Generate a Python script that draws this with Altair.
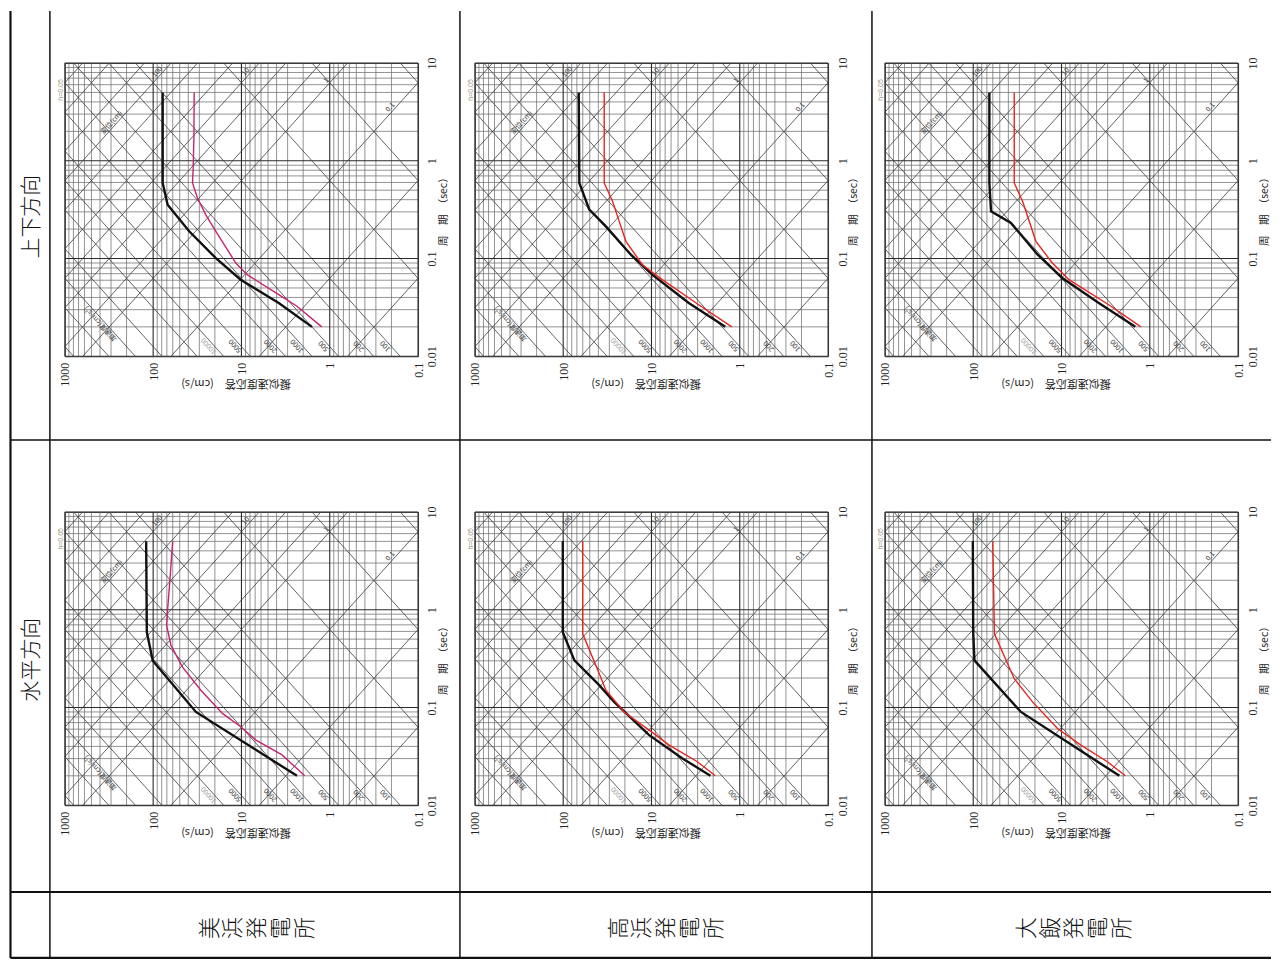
import math
import altair as alt
import pandas as pd

# ---------------- values ----------------
STATIONS = ["美浜発電所", "高浜発電所", "大飯発電所"]
DIRECTIONS = ["上下方向", "水平方向"]
DAMPING_TEXT = "h=0.05"
VEL_TITLE = "擬似速度応答　(cm/s)"
PER_TITLE = "周　期　（sec）"

PERIOD_MAJOR = [0.01, 0.1, 1, 10]
VELOCITY_MAJOR = [0.1, 1, 10, 100, 1000]
MINOR_STEPS = [2, 3, 4, 5, 6, 7, 8, 9]

DISP_LINES = [0.0001, 0.001, 0.01, 0.1, 1, 2, 5, 10, 20, 50, 100, 200, 500, 1000]
ACC_LINES = [0.1, 1, 10, 100, 200, 500, 1000, 2000, 5000, 10000, 20000, 50000,
             100000, 200000, 500000]

DISP_LABEL_TEXT = ["100", "10", "1", "0.1", "変位(cm)"]
DISP_LABEL_ON = [100, 10, 1, 0.1, 100]
DISP_LABEL_PERIOD = [7.6, 7.6, 6.2, 3.3, 2.3]

ACC_LABEL_TEXT = ["10000", "5000", "2000", "1000", "500", "200", "100", "加速度(cm/s²)"]
ACC_LABEL_ON = [10000, 5000, 2000, 1000, 500, 200, 100, 100000]
ACC_LABEL_PERIOD = [0.0136, 0.0136, 0.0136, 0.0136, 0.0136, 0.0136, 0.0136, 0.023]
ACC_LABEL_SHADE = ["faint", "dark", "dark", "dark", "dark", "dark", "dark", "dark"]

# Mihama
MIHAMA_V_SS_T = [0.02, 0.0351, 0.0608, 0.101, 0.190, 0.355, 0.593, 5.0]
MIHAMA_V_SS_SV = [1.59, 3.78, 10.2, 19.5, 39.1, 68.6, 78.0, 78.0]
MIHAMA_V_RES_T = [0.02, 0.0325, 0.0427, 0.0684, 0.090, 0.190, 0.281, 0.416, 0.593, 0.844, 1.85, 5.0]
MIHAMA_V_RES_SV = [1.23, 2.35, 3.78, 8.6, 11.6, 19.5, 25.4, 31.5, 35.8, 35.2, 34.5, 34.3]
MIHAMA_H_SS_T = [0.02, 0.090, 0.30, 0.59, 5.0]
MIHAMA_H_SS_SV = [2.35, 32.8, 101, 118, 120]
MIHAMA_H_RES_T = [0.02, 0.0327, 0.0466, 0.0635, 0.0869, 0.150, 0.259, 0.431, 0.687, 1.02, 2.05, 5.0]
MIHAMA_H_RES_SV = [1.92, 3.47, 6.92, 10.2, 16.4, 28.8, 46.5, 62.8, 70.3, 68.5, 64.5, 60.1]
# Takahama
TAKAHAMA_V_SS_T = [0.02, 0.0351, 0.0684, 0.110, 0.213, 0.316, 0.593, 5.0]
TAKAHAMA_V_SS_SV = [1.46, 3.78, 9.8, 17.2, 32.8, 50.6, 65.6, 66.7]
TAKAHAMA_V_RES_T = [0.02, 0.0337, 0.0608, 0.0865, 0.150, 0.240, 0.385, 0.593, 5.0]
TAKAHAMA_V_RES_SV = [1.23, 2.92, 7.55, 12.7, 19.5, 23.2, 27.6, 34.3, 34.3]
TAKAHAMA_H_SS_T = [0.02, 0.0303, 0.0524, 0.114, 0.169, 0.303, 0.587, 5.0]
TAKAHAMA_H_SS_SV = [2.15, 4.5, 10.7, 26.5, 39.1, 74.6, 101, 101]
TAKAHAMA_H_RES_T = [0.02, 0.028, 0.0414, 0.0524, 0.090, 0.150, 0.222, 0.567, 5.0]
TAKAHAMA_H_RES_SV = [1.89, 3.05, 6.36, 8.97, 20.4, 32.8, 39.1, 60.1, 60.1]
# Ohi
OHI_V_SS_T = [0.02, 0.0351, 0.0633, 0.110, 0.231, 0.304, 0.593, 5.0]
OHI_V_SS_SV = [1.46, 3.78, 9.8, 18.7, 37.4, 62.8, 65.6, 65.6]
OHI_V_RES_T = [0.02, 0.0337, 0.0608, 0.090, 0.150, 0.385, 0.593, 5.0]
OHI_V_RES_SV = [1.26, 2.92, 8.24, 12.7, 19.5, 27.6, 34.3, 34.3]
OHI_H_SS_T = [0.02, 0.090, 0.303, 0.587, 5.0]
OHI_H_SS_SV = [2.21, 28.8, 96.8, 100, 101]
OHI_H_RES_T = [0.02, 0.028, 0.0414, 0.061, 0.114, 0.197, 0.567, 5.0]
OHI_H_RES_SV = [1.89, 3.05, 6.08, 11.1, 21.3, 34.3, 57.5, 60.1]

MIHAMA_COLOR = "#c8236e"
OTHER_COLOR = "#e8251e"

# ---------------- layout ----------------
PLOT_W = 354
PLOT_H = 294
COL_GAP = 57
ROW_GAP = 156
ORIGIN_X, ORIGIN_Y = 65, 62          # page position of first plot's top-left
TWO_PI = 2 * math.pi
DIAG = math.degrees(math.atan2(PLOT_H / 3.0, PLOT_W / 4.0))
DISP_ANGLE = 360 - DIAG
ACC_ANGLE = 180 + DIAG

# ---------------- derived tables ----------------
t_major = pd.DataFrame({"t": PERIOD_MAJOR})
t_minor = pd.DataFrame({"t": [d * k for d in PERIOD_MAJOR[:-1] for k in MINOR_STEPS]})
v_major = pd.DataFrame({"sv": VELOCITY_MAJOR})
v_minor = pd.DataFrame({"sv": [d * k for d in VELOCITY_MAJOR[:-1] for k in MINOR_STEPS]})

t_lo, t_hi = PERIOD_MAJOR[0], PERIOD_MAJOR[-1]
diag_rows = []
for i, d in enumerate(DISP_LINES):
    for t in (t_lo, t_hi):
        diag_rows.append({"id": f"d{i}", "t": t, "sv": TWO_PI * d / t})
for i, a in enumerate(ACC_LINES):
    for t in (t_lo, t_hi):
        diag_rows.append({"id": f"a{i}", "t": t, "sv": a * t / TWO_PI})
diag_df = pd.DataFrame(diag_rows)

disp_lab = pd.DataFrame({
    "label": DISP_LABEL_TEXT,
    "t": DISP_LABEL_PERIOD,
    "sv": [TWO_PI * d / t for d, t in zip(DISP_LABEL_ON, DISP_LABEL_PERIOD)],
})
acc_lab = pd.DataFrame({
    "label": ACC_LABEL_TEXT,
    "t": ACC_LABEL_PERIOD,
    "sv": [a * t / TWO_PI for a, t in zip(ACC_LABEL_ON, ACC_LABEL_PERIOD)],
    "shade": ACC_LABEL_SHADE,
})
one_row = pd.DataFrame({"k": [0]})


def X():
    return alt.X(
        "sv:Q",
        scale=alt.Scale(type="log", domain=[VELOCITY_MAJOR[0], VELOCITY_MAJOR[-1]], reverse=True, nice=False),
        axis=alt.Axis(values=VELOCITY_MAJOR, format="~g", labelAngle=270, labelAlign="right",
                      labelBaseline="middle", labelPadding=6, labelFlush=False, labelOverlap=False,
                      ticks=False, domain=False, grid=False, labelFontSize=12,
                      labelFont="Liberation Serif", labelColor="#222",
                      title=VEL_TITLE, titleAngle=180, titleAlign="center", titleBaseline="bottom",
                      titleX=171, titleY=21, titleFontSize=11, titleFontWeight="normal",
                      titleFont="Noto Sans CJK JP", titleColor="#222"),
    )


def Y():
    return alt.Y(
        "t:Q",
        scale=alt.Scale(type="log", domain=[t_lo, t_hi], nice=False),
        axis=alt.Axis(orient="right", values=PERIOD_MAJOR, format="~g", labelAngle=270,
                      labelAlign="center", labelBaseline="top", labelPadding=9, labelFlush=False,
                      labelOverlap=False, ticks=False, domain=False, grid=False, labelFontSize=12,
                      labelFont="Liberation Serif", labelColor="#222",
                      title=PER_TITLE, titleAngle=270, titleAlign="center", titleBaseline="top",
                      titleX=21, titleY=146, titleFontSize=10.5, titleFontWeight="normal",
                      titleFont="Noto Sans CJK JP", titleColor="#222"),
    )


def curve_df(ts, svs):
    return pd.DataFrame({"t": ts, "sv": svs, "idx": list(range(len(ts)))})


def panel(ss_t, ss_sv, res_t, res_sv, color, extra=()):
    layers = [
        alt.Chart(v_minor).mark_rule(color="#6e6e6e", strokeWidth=0.75).encode(x=X()),
        alt.Chart(t_minor).mark_rule(color="#6e6e6e", strokeWidth=0.75).encode(y=Y()),
        alt.Chart(v_major).mark_rule(color="#2a2a2a", strokeWidth=1.1).encode(x=X()),
        alt.Chart(t_major).mark_rule(color="#2a2a2a", strokeWidth=1.1).encode(y=Y()),
        alt.Chart(diag_df).mark_line(color="#3c3c3c", strokeWidth=0.8, clip=True).encode(
            x=X(), y=Y(), detail="id:N"),
        alt.Chart(disp_lab).mark_text(angle=DISP_ANGLE, baseline="bottom", align="center", dy=-1,
                                      fontSize=7, font="Noto Sans CJK JP", color="#333").encode(
            x=X(), y=Y(), text="label:N"),
        alt.Chart(acc_lab).mark_text(angle=ACC_ANGLE, baseline="bottom", align="center", dy=-1,
                                     fontSize=7, font="Noto Sans CJK JP").encode(
            x=X(), y=Y(), text="label:N",
            color=alt.Color("shade:N", scale=alt.Scale(domain=["faint", "dark"], range=["#a0a0a0", "#333"]),
                            legend=None)),
        alt.Chart(one_row).mark_text(text=DAMPING_TEXT, angle=270, fontSize=7, color="#a09478",
                                     align="center", baseline="middle").encode(
            x=alt.value(-4), y=alt.value(27)),
        alt.Chart(curve_df(ss_t, ss_sv)).mark_line(color="#111", strokeWidth=2.4).encode(
            x=X(), y=Y(), order="idx:Q"),
        alt.Chart(curve_df(res_t, res_sv)).mark_line(color=color, strokeWidth=1.4).encode(
            x=X(), y=Y(), order="idx:Q"),
    ]
    layers.extend(extra)
    return alt.layer(*layers).properties(width=PLOT_W, height=PLOT_H)


# ---------------- table decorations (page coordinates -> first panel offsets) ----------------
TABLE_TOP = 10
TABLE_BOTTOM = 959
TABLE_LEFT = 10.5
TABLE_RIGHT = 1274
V_LINES = [(TABLE_LEFT, 2.2), (50, 1.5), (461, 1.5), (874, 1.5)]
H_LINES = [(440, 1.5), (893, 2.0), (TABLE_BOTTOM, 2.2)]
NAME_LINE_HEIGHT = 24


def px(x):
    return x - ORIGIN_X


def py(y):
    return y - ORIGIN_Y


deco = []
for xv, w in V_LINES:
    deco.append(alt.Chart(one_row).mark_rule(color="#111", strokeWidth=w).encode(
        x=alt.value(px(xv)), y=alt.value(py(TABLE_TOP)), y2=alt.value(py(TABLE_BOTTOM))))
for yv, w in H_LINES:
    deco.append(alt.Chart(one_row).mark_rule(color="#111", strokeWidth=w).encode(
        y=alt.value(py(yv)), x=alt.value(px(TABLE_LEFT)), x2=alt.value(px(TABLE_RIGHT))))

ROW_LABEL_POS = [(32, 216), (32, 660)]
for name, (cx, cy) in zip(DIRECTIONS, ROW_LABEL_POS):
    deco.append(alt.Chart(one_row).mark_text(text=name, angle=270, fontSize=21, font="Noto Sans CJK JP",
                                             fontWeight=300, color="#111", align="center",
                                             baseline="middle").encode(
        x=alt.value(px(cx)), y=alt.value(py(cy))))

STATION_POS = [(258, 929), (668, 929), (1077, 929)]
for name, (cx, cy) in zip(STATIONS, STATION_POS):
    first_x = cx - (len(name) - 1) / 2 * NAME_LINE_HEIGHT
    deco.append(alt.Chart(one_row).mark_text(text=list(name), angle=270, fontSize=22,
                                             lineHeight=NAME_LINE_HEIGHT,
                                             font="Noto Sans CJK JP", fontWeight=300, color="#111",
                                             align="center", baseline="middle").encode(
        x=alt.value(px(first_x)), y=alt.value(py(cy))))

panels = [
    panel(MIHAMA_V_SS_T, MIHAMA_V_SS_SV, MIHAMA_V_RES_T, MIHAMA_V_RES_SV, MIHAMA_COLOR, deco),
    panel(TAKAHAMA_V_SS_T, TAKAHAMA_V_SS_SV, TAKAHAMA_V_RES_T, TAKAHAMA_V_RES_SV, OTHER_COLOR),
    panel(OHI_V_SS_T, OHI_V_SS_SV, OHI_V_RES_T, OHI_V_RES_SV, OTHER_COLOR),
    panel(MIHAMA_H_SS_T, MIHAMA_H_SS_SV, MIHAMA_H_RES_T, MIHAMA_H_RES_SV, MIHAMA_COLOR),
    panel(TAKAHAMA_H_SS_T, TAKAHAMA_H_SS_SV, TAKAHAMA_H_RES_T, TAKAHAMA_H_RES_SV, OTHER_COLOR),
    panel(OHI_H_SS_T, OHI_H_SS_SV, OHI_H_RES_T, OHI_H_RES_SV, OTHER_COLOR),
]

chart = alt.concat(
    *panels, columns=3, spacing={"row": ROW_GAP, "column": COL_GAP}, bounds="flush"
).properties(padding=0, background="white").configure_view(stroke="#444", strokeWidth=1)

chart.save("out.html", embed_options={"renderer": "svg", "actions": False})
